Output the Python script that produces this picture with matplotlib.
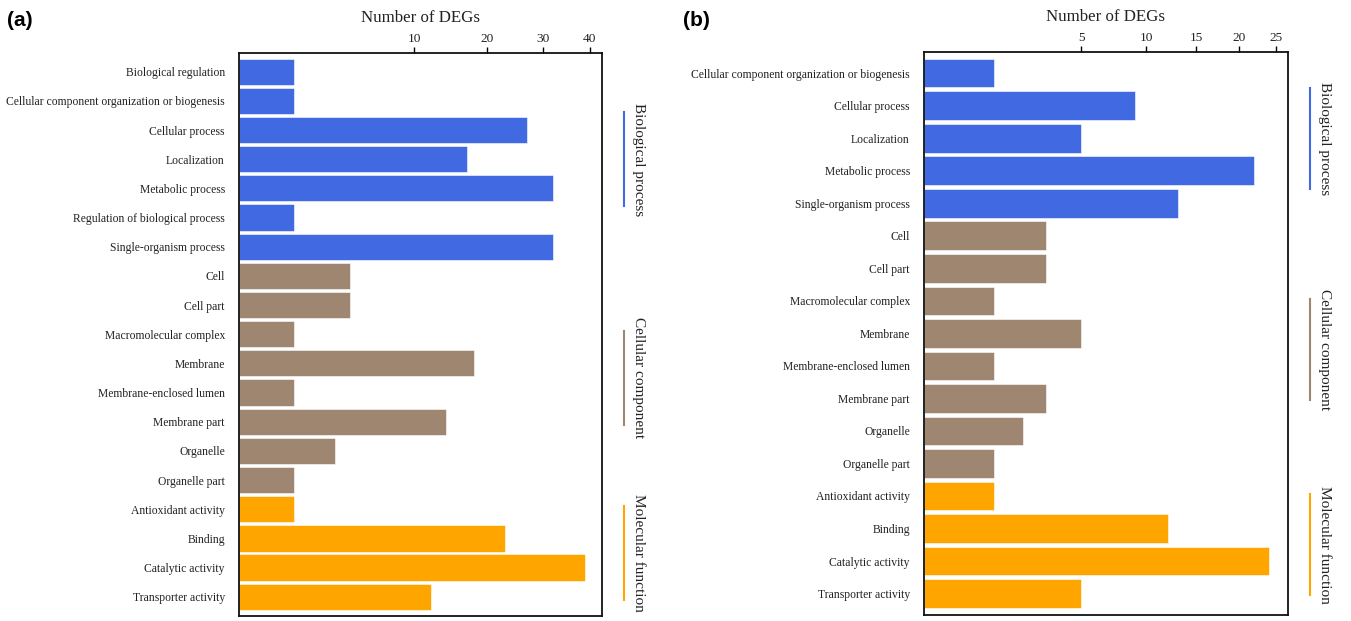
import numpy as np
import matplotlib
matplotlib.use("Agg")
import matplotlib.pyplot as plt
import matplotlib.transforms as mtransforms

# ---------------- data ----------------
cats_a = ["Biological regulation",
          "Cellular component organization or biogenesis",
          "Cellular process", "Localization", "Metabolic process",
          "Regulation of biological process", "Single-organism process",
          "Cell", "Cell part", "Macromolecular complex", "Membrane",
          "Membrane-enclosed lumen", "Membrane part", "Organelle",
          "Organelle part", "Antioxidant activity", "Binding",
          "Catalytic activity", "Transporter activity"]
vals_a = [1, 1, 27, 17, 32, 1, 32, 4, 4, 1, 18, 1, 14, 3, 1, 1, 23, 39, 12]
groups_a = ["BP"] * 7 + ["CC"] * 8 + ["MF"] * 4

cats_b = ["Cellular component organization or biogenesis",
          "Cellular process", "Localization", "Metabolic process",
          "Single-organism process", "Cell", "Cell part",
          "Macromolecular complex", "Membrane", "Membrane-enclosed lumen",
          "Membrane part", "Organelle", "Organelle part",
          "Antioxidant activity", "Binding", "Catalytic activity",
          "Transporter activity"]
vals_b = [1, 9, 5, 22, 13, 3, 3, 1, 5, 1, 3, 2, 1, 1, 12, 24, 5]
groups_b = ["BP"] * 5 + ["CC"] * 8 + ["MF"] * 4

ticks_a = [10, 20, 30, 40]
ticks_b = [5, 10, 15, 20, 25]

group_names = {"BP": "Biological process", "CC": "Cellular component",
               "MF": "Molecular function"}
group_colors = {"BP": "#4169E1", "CC": "#9E8670", "MF": "#FFA500"}

SERIF = ["Liberation Serif", "DejaVu Serif"]

fig = plt.figure(figsize=(13.51, 6.21), dpi=100)

def panel(rect, cats, vals, groups, ticks, xmax, barh_h, half_len, label, label_x):
    ax = fig.add_axes(rect)
    ax.set_xscale("function", functions=(lambda x: np.sqrt(np.clip(x, 0, None)),
                                         lambda x: np.square(x)))
    y = np.arange(len(cats))
    cols = [group_colors[g] for g in groups]
    ax.barh(y, vals, height=barh_h, color=cols, edgecolor="white", linewidth=0.4)
    ax.set_xlim(0, xmax)
    ax.set_ylim(len(cats) - 0.35, -0.65)
    ax.set_yticks(y)
    ax.set_yticklabels(cats, fontsize=8.4, family=SERIF, color="#222222")
    ax.tick_params(axis="y", length=0, pad=9.8)
    ax.xaxis.tick_top()
    ax.xaxis.set_label_position("top")
    ax.set_xticks(ticks)
    ax.set_xticklabels([str(t) for t in ticks], fontsize=9.6, family=SERIF,
                       color="#222222")
    ax.tick_params(axis="x", direction="out", length=4.5, width=1.0, pad=1.0)
    ax.minorticks_off()
    ax.set_xlabel("Number of DEGs", fontsize=12.2, family=SERIF,
                  color="#222222", labelpad=8)
    for s in ax.spines.values():
        s.set_linewidth(1.3)
        s.set_color("#111111")
    trans = mtransforms.blended_transform_factory(ax.transAxes, ax.transData)
    for g in ["BP", "CC", "MF"]:
        idx = [i for i, gg in enumerate(groups) if gg == g]
        c = (idx[0] + idx[-1]) / 2.0
        ax.plot([1.061, 1.061], [c - half_len, c + half_len], transform=trans,
                color=group_colors[g], lw=1.5, clip_on=False)
        ax.text(1.10, c, group_names[g], transform=trans, rotation=270,
                ha="center", va="center", fontsize=11, family=SERIF,
                color="#222222", clip_on=False)
    fig.text(label_x, 1 - 20 / 621, label, fontsize=15, fontweight="bold",
             family=["Liberation Sans", "DejaVu Sans"], ha="left", va="center")
    return ax

panel([238.5 / 1351, 1 - 615.7 / 621, (601.7 - 238.5) / 1351, (615.7 - 52.7) / 621],
      cats_a, vals_a, groups_a, ticks_a, 42.8, 0.9, 1.62, "(a)", 7 / 1351)
panel([923.5 / 1351, 1 - 614.7 / 621, (1287.7 - 923.5) / 1351, (614.7 - 52.0) / 621],
      cats_b, vals_b, groups_b, ticks_b, 26.7, 0.88, 1.55, "(b)", 683 / 1351)

fig.savefig("out.png", dpi=100)
